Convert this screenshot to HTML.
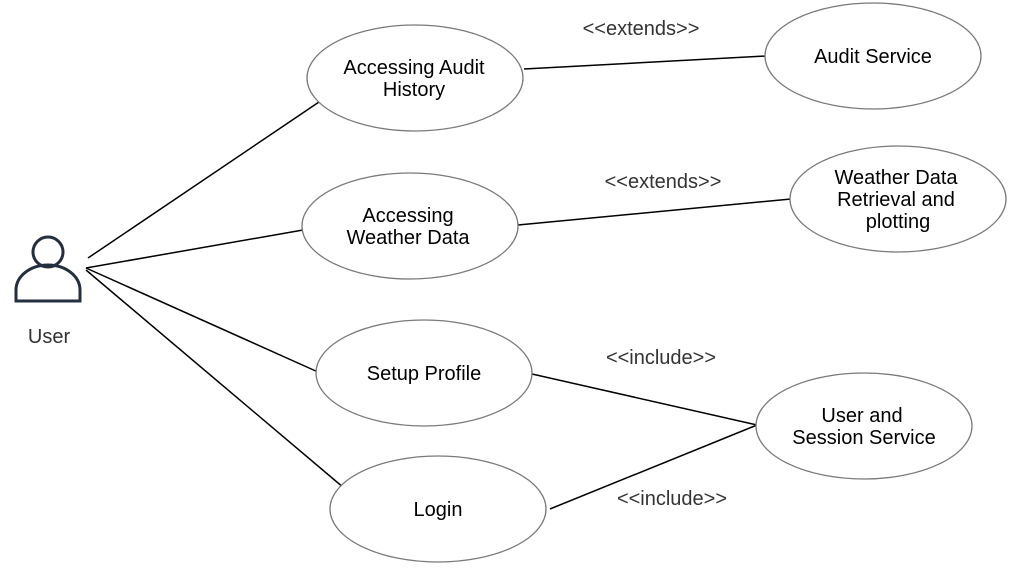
<!DOCTYPE html>
<html><head><meta charset="utf-8"><style>
html,body{margin:0;padding:0;background:#fff;width:1029px;height:582px;overflow:hidden}
svg text{font-family:"Liberation Sans",Arial,sans-serif;font-size:20px;text-anchor:middle}
</style></head><body>
<svg width="1029" height="582" viewBox="0 0 1029 582">
<g stroke="#000" stroke-width="1.5">
<line x1="88" y1="258" x2="319" y2="102"/>
<line x1="86" y1="268" x2="303" y2="230"/>
<line x1="86" y1="268" x2="318" y2="372"/>
<line x1="86" y1="270" x2="344" y2="488"/>
<line x1="524" y1="69" x2="766" y2="56"/>
<line x1="518" y1="225" x2="791" y2="199"/>
<line x1="532" y1="374" x2="757" y2="425"/>
<line x1="550" y1="509" x2="757" y2="425"/>
</g>
<g fill="#fff" stroke="#7a7a7a" stroke-width="1.3">
<ellipse cx="415" cy="78" rx="108" ry="53"/>
<ellipse cx="873" cy="56" rx="108" ry="53"/>
<ellipse cx="410" cy="226" rx="108" ry="53"/>
<ellipse cx="898" cy="199" rx="108" ry="53"/>
<ellipse cx="424" cy="373" rx="108" ry="53"/>
<ellipse cx="864" cy="426" rx="108" ry="53"/>
<ellipse cx="438" cy="509" rx="108" ry="53"/>
</g>
<g fill="none" stroke="#232f3e" stroke-width="3">
<circle cx="48" cy="252" r="15"/>
<path d="M16 301 L16 290 A32 25 0 0 1 80 290 L80 301 Z"/>
</g>
<g fill="#000">
<text x="414" y="74">Accessing Audit</text>
<text x="414" y="96">History</text>
<text x="873" y="63">Audit Service</text>
<text x="408" y="222">Accessing</text>
<text x="408" y="244">Weather Data</text>
<text x="896" y="184">Weather Data</text>
<text x="896" y="206">Retrieval and</text>
<text x="898" y="228">plotting</text>
<text x="424" y="380">Setup Profile</text>
<text x="862" y="422">User and</text>
<text x="864" y="444">Session Service</text>
<text x="438" y="516">Login</text>
</g>
<g fill="#333" style="font-size:19.5px">
<text x="641" y="35">&lt;&lt;extends&gt;&gt;</text>
<text x="663" y="188">&lt;&lt;extends&gt;&gt;</text>
<text x="661" y="364">&lt;&lt;include&gt;&gt;</text>
<text x="672" y="505">&lt;&lt;include&gt;&gt;</text>
<text x="49" y="343">User</text>
</g>
</svg>
</body></html>
